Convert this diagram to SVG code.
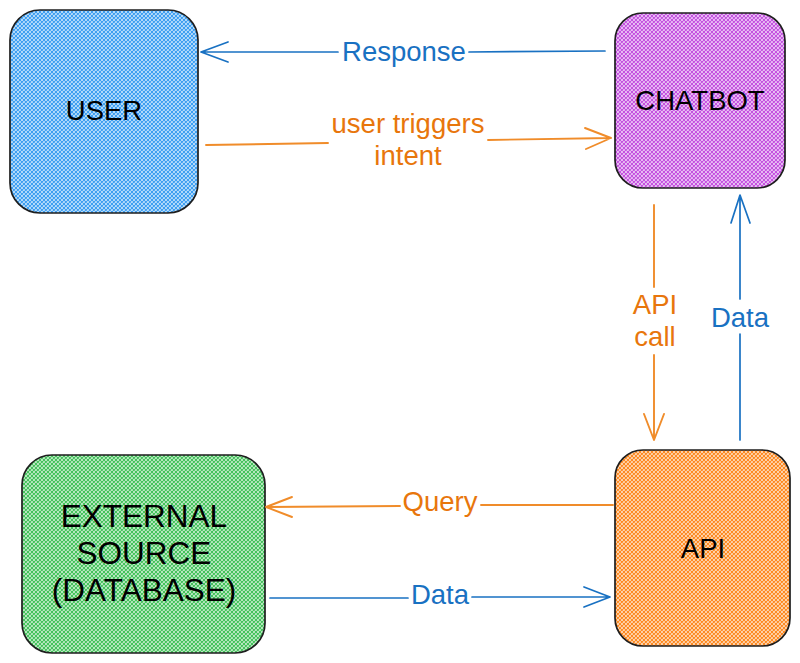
<svg xmlns="http://www.w3.org/2000/svg" width="800" height="663" viewBox="0 0 800 663">
<style>
.box{stroke:#1e1e1e;stroke-width:1.7;}
.lbl{font-family:"Liberation Sans",Arial,sans-serif;font-size:27.5px;fill:#000;text-anchor:middle;}
.big{font-size:31.5px;}
.elbl{font-family:"Liberation Sans",Arial,sans-serif;font-size:27.5px;text-anchor:middle;}
.blue{fill:#1971c2;}
.orange{fill:#e8760c;}
.lb{stroke:#1971c2;stroke-width:1.7;fill:none;stroke-linecap:round;stroke-linejoin:round;}
.lo{stroke:#f08c2a;stroke-width:1.9;fill:none;stroke-linecap:round;stroke-linejoin:round;}
</style>
<defs>
<pattern id="hb" patternUnits="userSpaceOnUse" width="4" height="4">
<rect width="4" height="4" fill="#fff"/>
<path d="M-1,1 l2,-2 M0,4 l4,-4 M3,5 l2,-2 M-1,3 l2,2 M0,0 l4,4 M3,-1 l2,2" stroke="#3d9ff2" stroke-width="1.25"/>
</pattern>
<pattern id="hp" patternUnits="userSpaceOnUse" width="4" height="4">
<rect width="4" height="4" fill="#fff"/>
<path d="M-1,1 l2,-2 M0,4 l4,-4 M3,5 l2,-2 M-1,3 l2,2 M0,0 l4,4 M3,-1 l2,2" stroke="#c452e0" stroke-width="1.25"/>
</pattern>
<pattern id="hg" patternUnits="userSpaceOnUse" width="4" height="4">
<rect width="4" height="4" fill="#fff"/>
<path d="M-1,1 l2,-2 M0,4 l4,-4 M3,5 l2,-2 M-1,3 l2,2 M0,0 l4,4 M3,-1 l2,2" stroke="#45c25c" stroke-width="1.25"/>
</pattern>
<pattern id="ho" patternUnits="userSpaceOnUse" width="4" height="4">
<rect width="4" height="4" fill="#fff"/>
<path d="M-1,1 l2,-2 M0,4 l4,-4 M3,5 l2,-2 M-1,3 l2,2 M0,0 l4,4 M3,-1 l2,2" stroke="#fd8a22" stroke-width="1.25"/>
</pattern>
</defs>
<g id="user">
<rect class="box" x="10" y="10" width="188" height="203" rx="30" fill="url(#hb)"/>
<text class="lbl" x="104" y="120">USER</text>
</g>
<g id="chatbot">
<rect class="box" x="615" y="13" width="170" height="175" rx="28" fill="url(#hp)"/>
<text class="lbl" x="700" y="110">CHATBOT</text>
</g>
<g id="external">
<rect class="box" x="22" y="455" width="243" height="198" rx="30" fill="url(#hg)"/>
<text class="lbl big" x="144" y="527">EXTERNAL</text>
<text class="lbl big" x="144" y="564">SOURCE</text>
<text class="lbl big" x="144" y="601">(DATABASE)</text>
</g>
<g id="api">
<rect class="box" x="615" y="450" width="175" height="196" rx="28" fill="url(#ho)"/>
<text class="lbl" x="703" y="558">API</text>
</g>
<g id="connectors">
<path class="lb" d="M605,51 L469,52 M338,52 L201,52 M228,42 L201,52 L228,62"/>
<text class="elbl blue" x="404" y="61">Response</text>
<path class="lo" d="M206,145 L328,143 M488,140 L611,138 M585,128 L611,138 L586,149"/>
<text class="elbl orange" x="408" y="133">user triggers</text>
<text class="elbl orange" x="408" y="165">intent</text>
<path class="lo" d="M654,205 L654,287 M654,355 L654,440 M644,414 L654,440 L664,414"/>
<text class="elbl orange" x="655" y="314">API</text>
<text class="elbl orange" x="655" y="346">call</text>
<path class="lb" d="M740,440 L740,334 M740,299 L740,195 M731,223 L740,195 L750,223"/>
<text class="elbl blue" x="740" y="327">Data</text>
<path class="lo" d="M613,505 L481,505 M400,506 L266,507 M292,497 L266,507 L292,517"/>
<text class="elbl orange" x="440" y="511">Query</text>
<path class="lb" d="M270,598 L408,598 M472,597 L610,597 M584,587 L610,597 L584,607"/>
<text class="elbl blue" x="440" y="604">Data</text>
</g>
</svg>
